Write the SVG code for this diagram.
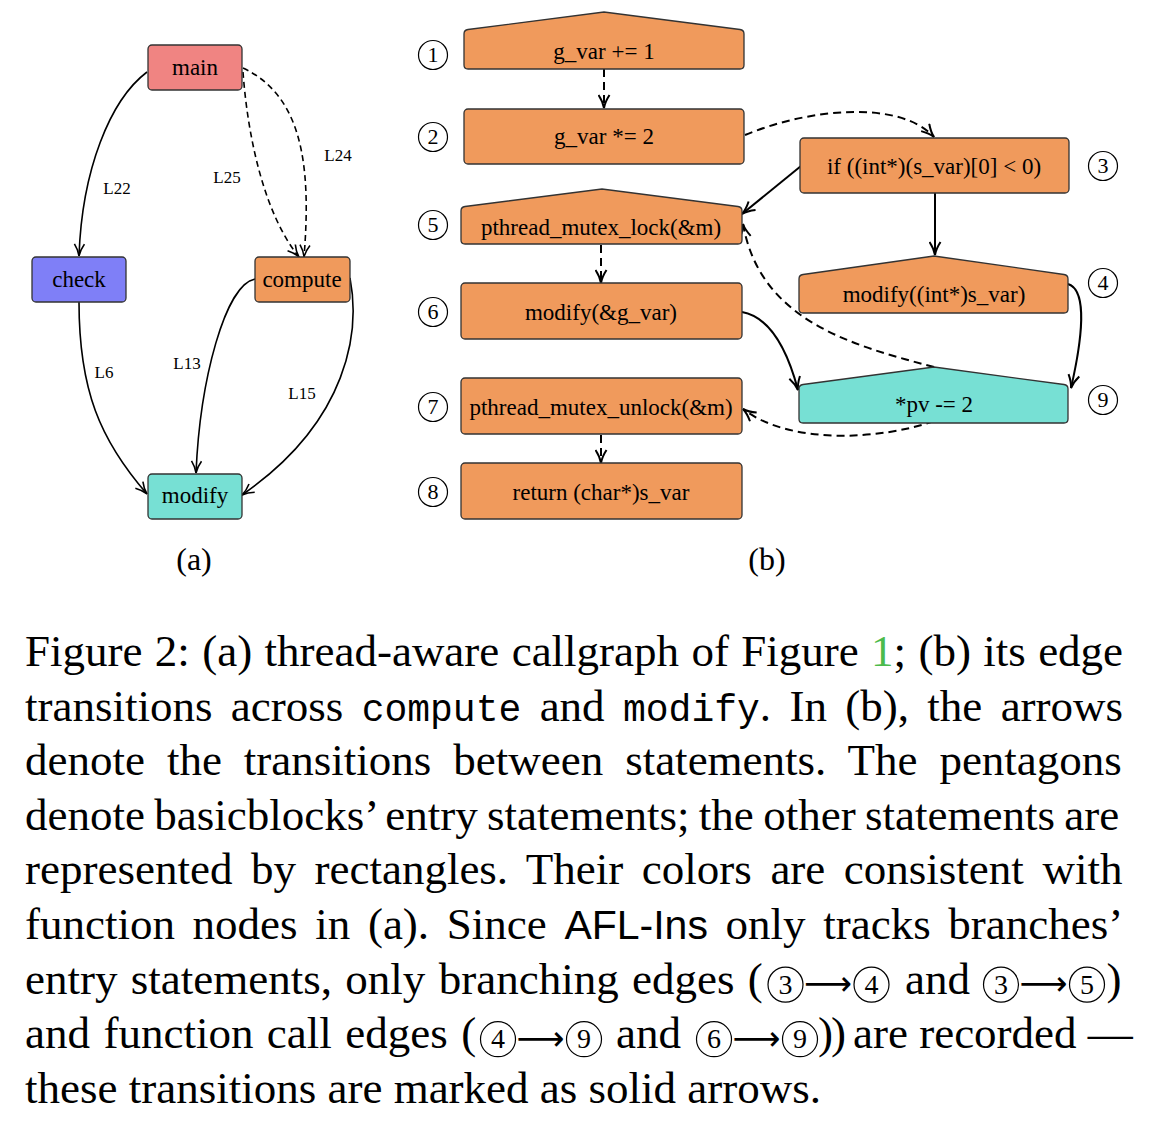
<svg xmlns="http://www.w3.org/2000/svg" width="1152" height="1122" viewBox="0 0 1152 1122">
<defs>
<style>
.bg{fill:#fff}
.n{stroke:#333;stroke-width:1.3}
.or{fill:#F09A5C}
.tq{fill:#77E0D4}
.t{font-family:"Liberation Serif","Times New Roman",serif;font-size:23px;text-anchor:middle;fill:#000}
.lbl{font-family:"Liberation Serif","Times New Roman",serif;font-size:17px;text-anchor:middle;fill:#000}
.sub{font-family:"Liberation Serif","Times New Roman",serif;font-size:32px;text-anchor:middle;fill:#000}
.e{fill:none;stroke:#000;stroke-width:1.6}
.eb{fill:none;stroke:#000;stroke-width:2}
.d{stroke-dasharray:6 4}
.db{stroke-dasharray:8 5}
.num{fill:#fff;stroke:#000;stroke-width:1.2}
.nt{font-family:"Liberation Serif","Times New Roman",serif;font-size:22px;text-anchor:middle;fill:#000}
.cap{font-family:"Liberation Serif","Times New Roman",serif;font-size:45px;fill:#000}
.mono{font-family:"Liberation Mono","Courier New",monospace;font-size:38px}
.sans{font-family:"Liberation Sans",Arial,sans-serif;font-size:41px}
.arr{font-family:"DejaVu Sans","Noto Sans",sans-serif;font-size:34px;fill:#000}
.ccirc{fill:none;stroke:#000;stroke-width:1.2}
.cd{font-family:"Liberation Serif","Times New Roman",serif;font-size:28px;text-anchor:middle;fill:#000}
</style>
<marker id="ah" viewBox="0 0 14 12" refX="13" refY="6" markerWidth="14" markerHeight="12" markerUnits="userSpaceOnUse" orient="auto">
<path d="M1,1 Q7,5 13,6 Q7,7 1,11" fill="none" stroke="#000" stroke-width="1.6"/>
</marker>
<marker id="ahb" viewBox="0 0 15 13" refX="14" refY="6.5" markerWidth="15" markerHeight="13" markerUnits="userSpaceOnUse" orient="auto">
<path d="M1,1 Q8,5.5 14,6.5 Q8,7.5 1,12" fill="none" stroke="#000" stroke-width="2"/>
</marker>
</defs>
<rect class="bg" x="0" y="0" width="1152" height="1122"/>

<!-- (a) connectors -->
<g id="connectors-a">
<path class="e" d="M147,72 C110,100 82,170 79,256" marker-end="url(#ah)"/>
<path class="e d" d="M243,72 C248,140 265,215 299,257" marker-end="url(#ah)"/>
<path class="e d" d="M243,68 C300,95 312,160 304,257" marker-end="url(#ah)"/>
<path class="e" d="M79,302 C79,390 100,440 147,494" marker-end="url(#ah)"/>
<path class="e" d="M255,279 C225,285 200,380 196,473" marker-end="url(#ah)"/>
<path class="e" d="M350,278 C360,330 350,420 242,495" marker-end="url(#ah)"/>
<text class="lbl" x="117" y="194">L22</text>
<text class="lbl" x="227" y="183">L25</text>
<text class="lbl" x="338" y="161">L24</text>
<text class="lbl" x="104" y="378">L6</text>
<text class="lbl" x="187" y="369">L13</text>
<text class="lbl" x="302" y="399">L15</text>
</g>

<!-- (a) nodes -->
<g id="node-main"><rect class="n" x="148" y="45" width="94" height="45" rx="4" fill="#F08482"/><text class="t" x="195" y="75">main</text></g>
<g id="node-check"><rect class="n" x="32" y="257" width="94" height="45" rx="4" fill="#7F7FF7"/><text class="t" x="79" y="287">check</text></g>
<g id="node-compute"><rect class="n or" x="255" y="257" width="95" height="45" rx="4"/><text class="t" x="302" y="287">compute</text></g>
<g id="node-modify"><rect class="n tq" x="148" y="474" width="94" height="45" rx="4"/><text class="t" x="195" y="503">modify</text></g>
<text class="sub" x="194" y="570">(a)</text>

<!-- (b) connectors -->
<g id="connectors-b">
<path class="eb db" d="M604,69 L604,108" marker-end="url(#ahb)"/>
<path class="eb db" d="M745,135 C810,108 900,100 934,137" marker-end="url(#ahb)"/>
<path class="eb" d="M801,166 L742,214" marker-end="url(#ahb)"/>
<path class="eb" d="M935,193 L935,255" marker-end="url(#ahb)"/>
<path class="eb" d="M1068,284 C1088,290 1082,340 1071,388" marker-end="url(#ahb)"/>
<path class="eb" d="M742,312 C775,318 790,360 798,390" marker-end="url(#ahb)"/>
<path class="eb db" d="M934,367 C850,345 760,320 743,224" marker-end="url(#ahb)"/>
<path class="eb db" d="M934,421 C880,440 790,445 743,409" marker-end="url(#ahb)"/>
<path class="eb db" d="M601,245 L601,283" marker-end="url(#ahb)"/>
<path class="eb db" d="M601,435 L601,463" marker-end="url(#ahb)"/>
</g>

<!-- (b) nodes -->
<g id="stmt-1"><path class="n or" d="M468,69 Q464,69 464,65 L464,34 Q464,30 468,29.5 L604,12 L740,29.5 Q744,30 744,34 L744,65 Q744,69 740,69 Z"/><text class="t" x="604" y="59">g_var += 1</text>
<circle class="num" cx="433" cy="55" r="14.5"/><text class="nt" x="433" y="62">1</text></g>
<g id="stmt-2"><rect class="n or" x="464" y="109" width="280" height="55" rx="4"/><text class="t" x="604" y="144">g_var *= 2</text>
<circle class="num" cx="433" cy="137" r="14.5"/><text class="nt" x="433" y="144">2</text></g>
<g id="stmt-3"><rect class="n or" x="800" y="138" width="269" height="55" rx="4"/><text class="t" x="934" y="174">if ((int*)(s_var)[0] &lt; 0)</text>
<circle class="num" cx="1103" cy="166" r="14.5"/><text class="nt" x="1103" y="173">3</text></g>
<g id="stmt-4"><path class="n or" d="M803,313 Q799,313 799,309 L799,279 Q799,275 803,274.5 L934,256 L1064,274.5 Q1068,275 1068,279 L1068,309 Q1068,313 1064,313 Z"/><text class="t" x="934" y="302">modify((int*)s_var)</text>
<circle class="num" cx="1103" cy="283" r="14.5"/><text class="nt" x="1103" y="290">4</text></g>
<g id="stmt-5"><path class="n or" d="M465,244 Q461,244 461,240 L461,211 Q461,207 465,206.5 L602,189 L738,206.5 Q742,207 742,211 L742,240 Q742,244 738,244 Z"/><text class="t" x="601" y="235">pthread_mutex_lock(&amp;m)</text>
<circle class="num" cx="433" cy="225" r="14.5"/><text class="nt" x="433" y="232">5</text></g>
<g id="stmt-6"><rect class="n or" x="461" y="283" width="281" height="56" rx="4"/><text class="t" x="601" y="320">modify(&amp;g_var)</text>
<circle class="num" cx="433" cy="312" r="14.5"/><text class="nt" x="433" y="319">6</text></g>
<g id="stmt-7"><rect class="n or" x="461" y="378" width="281" height="56" rx="4"/><text class="t" x="601" y="415">pthread_mutex_unlock(&amp;m)</text>
<circle class="num" cx="433" cy="407" r="14.5"/><text class="nt" x="433" y="414">7</text></g>
<g id="stmt-8"><rect class="n or" x="461" y="463" width="281" height="56" rx="4"/><text class="t" x="601" y="500">return (char*)s_var</text>
<circle class="num" cx="433" cy="492" r="14.5"/><text class="nt" x="433" y="499">8</text></g>
<g id="stmt-9"><path class="n tq" d="M803,423 Q799,423 799,419 L799,389 Q799,385 803,384.5 L934,367 L1064,384.5 Q1068,385 1068,389 L1068,419 Q1068,423 1064,423 Z"/><text class="t" x="934" y="412">*pv -= 2</text>
<circle class="num" cx="1103" cy="400" r="14.5"/><text class="nt" x="1103" y="407">9</text></g>
<text class="sub" x="767" y="570">(b)</text>

<!-- caption -->
<g id="caption">
<text class="cap" x="25" y="666" word-spacing="1.1">Figure 2: (a) thread-aware callgraph of Figure <tspan fill="#4CBB4C">1</tspan>; (b) its edge</text>
<text class="cap" x="25" y="720.6" word-spacing="7.1">transitions across <tspan class="mono">compute</tspan> and <tspan class="mono">modify</tspan>. In (b), the arrows</text>
<text class="cap" x="25" y="775.2" word-spacing="10.7">denote the transitions between statements. The pentagons</text>
<text class="cap" x="25" y="829.8" word-spacing="-1.9">denote basicblocks’ entry statements; the other statements are</text>
<text class="cap" x="25" y="884.4" word-spacing="7.3">represented by rectangles. Their colors are consistent with</text>
<text class="cap" x="25" y="939" word-spacing="6.4">function nodes in (a). Since <tspan class="sans">AFL-Ins</tspan> only tracks branches’</text>
<text class="cap" x="25" y="993.6" word-spacing="2.1">entry statements, only branching edges (</text>
<circle class="ccirc" cx="785.5" cy="984.6" r="17.5"/><text class="cd" x="785.5" y="993.5">3</text>
<text class="arr" x="804" y="995" textLength="48" lengthAdjust="spacingAndGlyphs">⟶</text>
<circle class="ccirc" cx="871.5" cy="984.6" r="17.5"/><text class="cd" x="871.5" y="993.5">4</text>
<text class="cap" x="905" y="993.6">and</text>
<circle class="ccirc" cx="1001" cy="984.6" r="17.5"/><text class="cd" x="1001" y="993.5">3</text>
<text class="arr" x="1019.5" y="995" textLength="48" lengthAdjust="spacingAndGlyphs">⟶</text>
<circle class="ccirc" cx="1087" cy="984.6" r="17.5"/><text class="cd" x="1087" y="993.5">5</text>
<text class="cap" x="1106.5" y="993.6">)</text>
<text class="cap" x="25" y="1048.2" word-spacing="2.2">and function call edges (</text>
<circle class="ccirc" cx="498" cy="1039.2" r="17.5"/><text class="cd" x="498" y="1048.1">4</text>
<text class="arr" x="516.5" y="1049.6" textLength="48" lengthAdjust="spacingAndGlyphs">⟶</text>
<circle class="ccirc" cx="584" cy="1039.2" r="17.5"/><text class="cd" x="584" y="1048.1">9</text>
<text class="cap" x="616" y="1048.2">and</text>
<circle class="ccirc" cx="714" cy="1039.2" r="17.5"/><text class="cd" x="714" y="1048.1">6</text>
<text class="arr" x="732.5" y="1049.6" textLength="48" lengthAdjust="spacingAndGlyphs">⟶</text>
<circle class="ccirc" cx="800" cy="1039.2" r="17.5"/><text class="cd" x="800" y="1048.1">9</text>
<text class="cap" x="818" y="1048.2" letter-spacing="-2">))</text>
<text class="cap" x="853" y="1048.2">are recorded —</text>
<text class="cap" x="25" y="1102.8">these transitions are marked as solid arrows.</text>
</g>
</svg>
